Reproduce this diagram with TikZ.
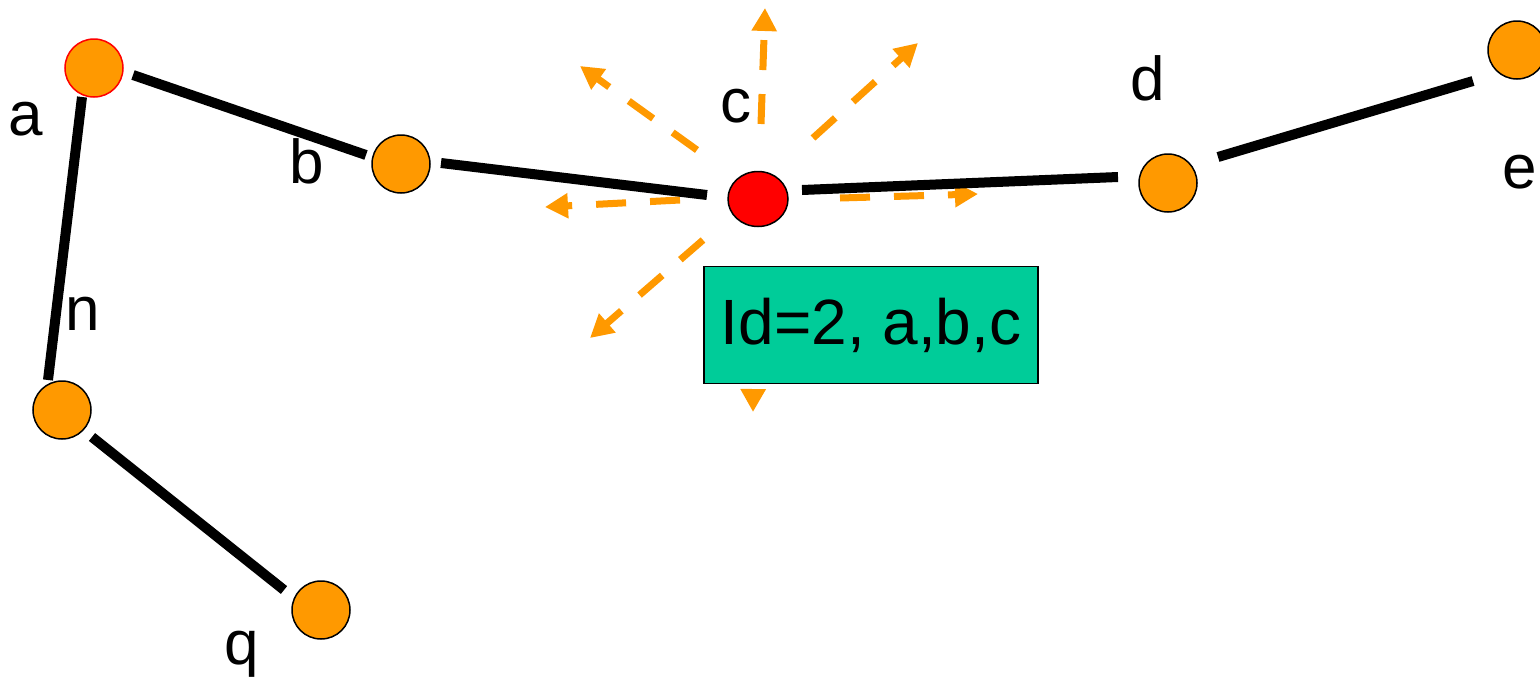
\documentclass[tikz,border=0pt]{standalone}
\usepackage{fontspec}
\setmainfont{Liberation Sans}
\usetikzlibrary{arrows.meta,calc,shapes.geometric}
\definecolor{nodeorange}{RGB}{255,153,0}
\definecolor{boxgreen}{RGB}{0,204,153}
\begin{document}
\begin{tikzpicture}[x=1pt,y=-1pt,
  vertex/.style={circle,fill=nodeorange,draw=black,line width=1.5pt,minimum size=58pt,inner sep=0pt},
  edge/.style={line width=10pt},
  arr/.style={draw=nodeorange,line width=7pt,dash pattern=on 30pt off 24pt,
    -{Triangle[length=23pt,width=24pt]}},
  lbl/.style={inner sep=0pt,anchor=base west,font=\fontsize{62}{70}\selectfont},
  idbox/.style={draw=black,line width=1.2pt,fill=boxgreen,minimum width=334pt,minimum height=117pt,inner sep=0pt,font=\fontsize{64}{70}\selectfont}
]
\useasboundingbox (0,0) rectangle (1540,678);
% nodes
\node[vertex,draw=red] (a) at (94,68) {};
\node[vertex] (b) at (401,164) {};
\node[ellipse,fill=red,draw=black,line width=1.5pt,minimum width=60pt,minimum height=55pt,inner sep=0pt] (c) at (758,199) {};
\node[vertex] (d) at (1168,183) {};
\node[vertex] (e) at (1517,50) {};
\node[vertex] (n) at (62,410) {};
\node[vertex] (q) at (321,610) {};
% arrow tips
\coordinate (tu) at (765,8);
\coordinate (tul) at (580,66);
\coordinate (tur) at (918,43);
\coordinate (tl) at (545,207);
\coordinate (tr) at (978,194);
\coordinate (tll) at (590,338);
\coordinate (td) at (753,412);
% dashed arrows from c
\draw[arr] ($(c)+(3,-75)$) -- (tu);
\draw[arr] ($(c)+(-61,-49)$) -- (tul);
\draw[arr] ($(c)+(55,-61)$) -- (tur);
\draw[arr] ($(c)+(-78,1)$) -- (tl);
\draw[arr] ($(c)+(82,-1)$) -- (tr);
\draw[arr] ($(c)+(-55,41)$) -- (tll);
\draw[arr,dash phase=30pt] ($(c)+(-4,75)$) -- (td);
% edges
\draw[edge] ($(a)+(39,7)$) -- ($(b)+(-35,-9)$);
\draw[edge] ($(a)+(-12,29)$) -- ($(n)+(-14,-30)$);
\draw[edge] ($(b)+(40,-1)$) -- ($(c)+(-51,-4)$);
\draw[edge] ($(c)+(44,-9)$) -- ($(d)+(-50,-6)$);
\draw[edge] ($(d)+(50,-26)$) -- ($(e)+(-44,31)$);
\draw[edge] ($(n)+(30,27)$) -- ($(q)+(-37,-20)$);
% box
\node[idbox] (idb) at (871,325) {Id=2, a,b,c};
% labels
\node[lbl] (la) at (8,135) {a};
\node[lbl] (lb) at (289,183) {b};
\node[lbl] (lc) at (720,122) {c};
\node[lbl] (ld) at (1130,100) {d};
\node[lbl] (le) at (1502,188) {e};
\node[lbl] (ln) at (65,330) {n};
\node[lbl] (lq) at (224,664) {q};
\end{tikzpicture}
\end{document}
